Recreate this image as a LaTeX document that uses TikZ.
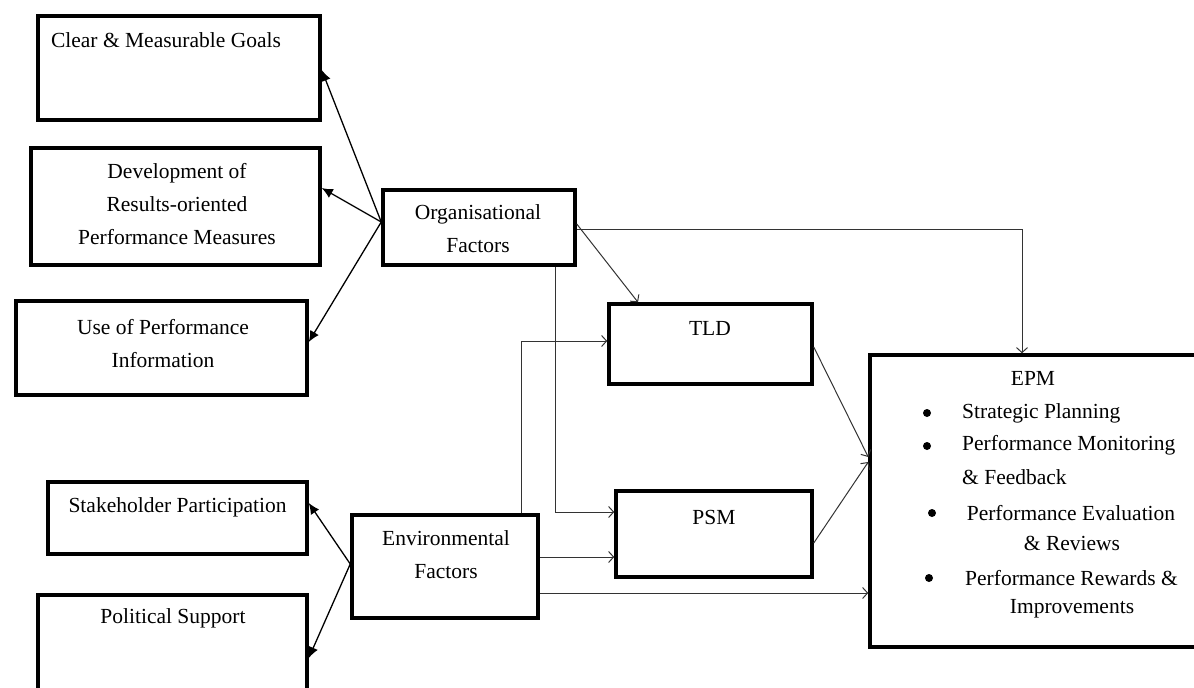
\documentclass[tikz,border=0pt]{standalone}
\usepackage{fontspec}
\setmainfont{Liberation Serif}
\usetikzlibrary{arrows.meta}
\tikzset{
  boxnode/.style={draw=black, line width=3.5pt, rectangle, inner sep=0pt},
  txt/.style={font=\fontsize{21.5}{33}\selectfont, align=center, inner sep=0pt},
  bulletdot/.style={circle, fill=black, inner sep=0pt, minimum size=8pt},
  fanarrow/.style={draw=black, line width=1.3pt, -{Latex[length=11pt,width=10pt]}},
  thinarrow/.style={draw=black!80, line width=1pt, -{Straight Barb[length=5pt,width=11pt]}},
}
\begin{document}
\begin{tikzpicture}[x=1pt,y=-1pt]
\useasboundingbox (0,0) rectangle (1194,688);

% boxes
\node[boxnode, minimum width=282pt, minimum height=104pt] (b1) at (179,68) {};
\node[boxnode, minimum width=289pt, minimum height=117pt] (b2) at (175.5,206.5) {};
\node[boxnode, minimum width=291pt, minimum height=94pt] (b3) at (161.5,348) {};
\node[boxnode, minimum width=192pt, minimum height=75pt] (org) at (479,227.5) {};
\node[boxnode, minimum width=203pt, minimum height=80pt] (tld) at (710.5,344) {};
\node[boxnode, minimum width=196pt, minimum height=86pt] (psm) at (714,534) {};
\node[boxnode, minimum width=186pt, minimum height=103pt] (env) at (445,566.5) {};
\node[boxnode, minimum width=259pt, minimum height=72pt] (stake) at (177.5,518) {};
\node[boxnode, minimum width=269pt, minimum height=122pt] (pol) at (172.5,656) {};
\node[boxnode, minimum width=337pt, minimum height=292pt] (epm) at (1038.5,501) {};

% texts
\node[txt] (t1) at (166,40) {Clear \& Measurable Goals};
\node[txt] (t2) at (177,204) {Development of\\Results-oriented\\Performance Measures};
\node[txt] (t3) at (163,344) {Use of Performance\\Information};
\node[txt] (t4) at (478,229) {Organisational\\Factors};
\node[txt] (t5) at (710,328) {TLD};
\node[txt] (t6) at (714,517) {PSM};
\node[txt] (t7) at (446,555) {Environmental\\Factors};
\node[txt] (t8) at (177.5,507) {Stakeholder Participation};
\node[txt] (t9) at (173,618) {Political Support};

% EPM contents
\node[txt] (e0) at (1033,378) {EPM};
\node[bulletdot] (bu1) at (927,413) {};
\node[txt, anchor=west] (e1) at (962,413) {Strategic Planning};
\node[bulletdot] (bu2) at (927,446) {};
\node[txt, anchor=west] (e2) at (962,445) {Performance Monitoring};
\node[txt, anchor=west] (e2b) at (962,477) {\& Feedback};
\node[bulletdot] (bu3) at (932,513) {};
\node[txt] (e3) at (1071,513) {Performance Evaluation};
\node[txt] (e3b) at (1072,543) {\& Reviews};
\node[bulletdot] (bu4) at (929,578) {};
\node[txt] (e4) at (1071.5,578) {Performance Rewards \&};
\node[txt] (e4b) at (1072,609) {Improvements};

% fan arrows from Organisational Factors
\draw[fanarrow] ([yshift=5.5pt]org.west) -- ([yshift=-2pt]b1.east);
\draw[fanarrow] ([yshift=5.5pt]org.west) -- ([yshift=18.5pt]b2.east);
\draw[fanarrow] ([yshift=5.5pt]org.west) -- ([yshift=6pt]b3.east);

% fan arrows from Environmental Factors
\draw[fanarrow] ([yshift=2.5pt]env.west) -- ([yshift=15pt]stake.east);
\draw[fanarrow] ([yshift=2.5pt]env.west) -- ([yshift=-2pt]pol.east);

% thin connectors
\draw[thinarrow] ([yshift=3.5pt]org.east) -- ([xshift=-72.5pt]tld.north);
\draw[thinarrow] ([yshift=-1.5pt]org.east) -| ([xshift=-16.5pt]epm.north);
\draw[thinarrow] ([xshift=76pt]org.south) |- ([yshift=22pt]psm.west);
\draw[thinarrow] ([xshift=76pt]env.north) |- ([yshift=3pt]tld.west);
\draw[thinarrow] ([yshift=9.5pt]env.east) coordinate (ep1) -- (ep1 -| psm.west);
\draw[thinarrow] ([yshift=-26.5pt]env.east) coordinate (ep2) -- (ep2 -| epm.west);
\draw[thinarrow] ([yshift=-3pt]tld.east) -- ([yshift=44pt]epm.west);
\draw[thinarrow] ([yshift=-9pt]psm.east) -- ([yshift=39pt]epm.west);
\end{tikzpicture}
\end{document}
